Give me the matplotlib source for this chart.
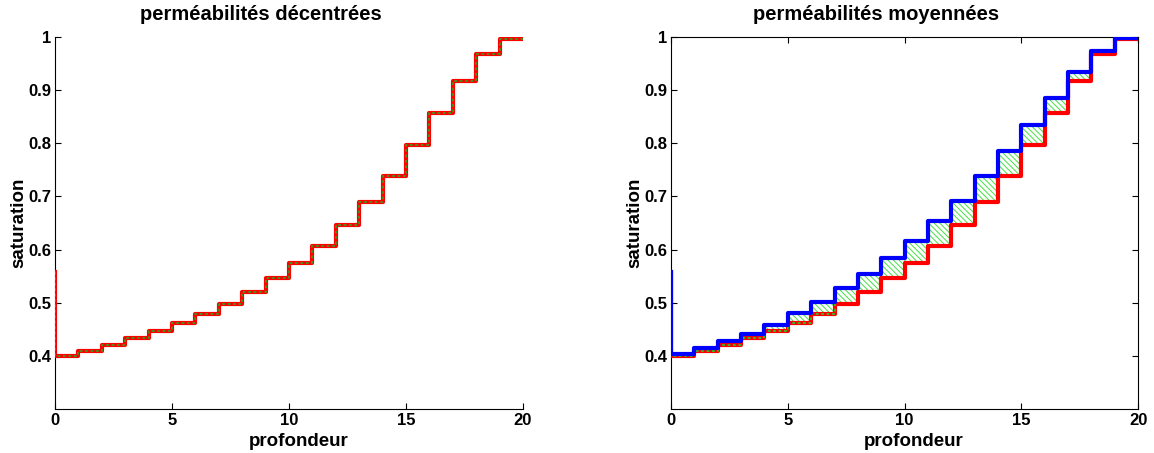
import matplotlib
matplotlib.use('Agg')
import matplotlib.pyplot as plt
import numpy as np

plt.rcParams['font.family'] = ['Liberation Sans', 'DejaVu Sans']
plt.rcParams['font.weight'] = 'bold'
plt.rcParams['hatch.linewidth'] = 0.7

################################################################################
# Data
depth = np.arange(0, 21)          # profondeur, 0..20
sat_start = 0.558                 # value at x=0 before the first step
sat_red = [0.400, 0.410, 0.420, 0.433, 0.447, 0.462, 0.479, 0.498, 0.520, 0.546,
           0.575, 0.607, 0.646, 0.689, 0.739, 0.796, 0.857, 0.918, 0.968, 0.997]
sat_blue = [0.404, 0.415, 0.428, 0.442, 0.459, 0.481, 0.502, 0.527, 0.555, 0.585,
            0.617, 0.653, 0.692, 0.738, 0.786, 0.835, 0.886, 0.934, 0.973, 0.998]
yticks = [0.4, 0.5, 0.6, 0.7, 0.8, 0.9, 1.0]
yticklabels = ['0.4', '0.5', '0.6', '0.7', '0.8', '0.9', '1']
xticks = [0, 5, 10, 15, 20]

titles = ['perméabilités décentrées', 'perméabilités moyennées']

# step coordinates: vertical drop at x=0, then constant per unit cell
xs = np.concatenate([[0], depth])
red_s = np.concatenate([[sat_start], sat_red, [sat_red[-1]]])
blue_s = np.concatenate([[sat_start], sat_blue, [sat_blue[-1]]])

################################################################################
fig = plt.figure(figsize=(11.54, 4.53), dpi=100)
ax1 = fig.add_axes([0.0477, 0.0971, 0.4055, 0.821])
ax2 = fig.add_axes([0.5815, 0.0971, 0.4047, 0.821])

def style(ax, title, box):
    ax.set_xlim(0, 20)
    ax.set_ylim(0.3, 1.0)
    ax.set_xticks(xticks)
    ax.set_xticklabels([str(t) for t in xticks])
    ax.set_yticks(yticks)
    ax.set_yticklabels(yticklabels)
    ax.tick_params(direction='in', length=4, width=0.8, labelsize=12,
                   top=box, right=box, pad=3)
    for lab in ax.get_xticklabels() + ax.get_yticklabels():
        lab.set_fontweight('bold')
    ax.spines['top'].set_visible(box)
    ax.spines['right'].set_visible(box)
    t = ax.set_title(title, fontsize=14.5, fontweight='bold', pad=12)
    t.set_x(0.44)
    ax.set_xlabel('profondeur', fontsize=13.5, fontweight='bold', labelpad=-2)
    ax.xaxis.set_label_coords(0.52, -0.065)
    ax.set_ylabel('saturation', fontsize=13.5, fontweight='bold', labelpad=0)

# left: décentrées
ax1.plot(xs, red_s, drawstyle='steps-post', color='red', lw=3.0, zorder=3)
ax1.plot(xs, red_s, drawstyle='steps-post', color='#3a9a1a', lw=1.3, ls=(0, (1.5, 1.5)), zorder=4)
style(ax1, titles[0], False)

# right: moyennées
ax2.fill_between(depth, np.append(sat_red, sat_red[-1]), np.append(sat_blue, sat_blue[-1]),
                 step='post', facecolor='none', edgecolor='#44e044', hatch='\\\\\\\\\\\\',
                 lw=0, zorder=2)
ax2.plot(xs, red_s, drawstyle='steps-post', color='red', lw=3.0, zorder=3)
ax2.plot(xs[:9], red_s[:9], drawstyle='steps-post', color='#22cc22', lw=1.3,
         ls=(0, (1.5, 1.5)), zorder=4)
ax2.plot(xs, blue_s, drawstyle='steps-post', color='blue', lw=3.0, zorder=5)
style(ax2, titles[1], True)

fig.savefig('out.png', dpi=100)
